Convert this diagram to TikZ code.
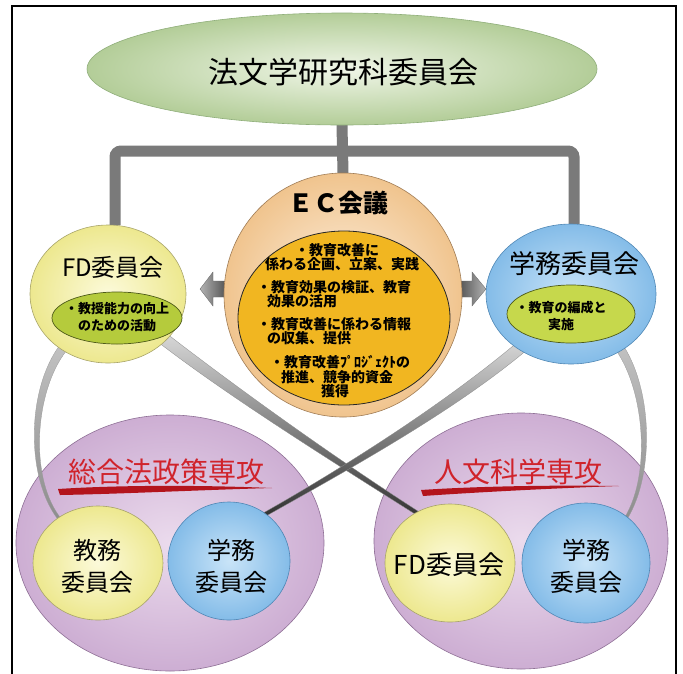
\documentclass[tikz,border=0pt]{standalone}
\usepackage{fontspec}
\setmainfont{Noto Sans CJK JP}
\usetikzlibrary{shapes.geometric,calc}
\pgfdeclarelayer{back}
\pgfdeclarelayer{purp}
\pgfdeclarelayer{band}
\pgfsetlayers{back,purp,band,main}

\definecolor{topIn}{HTML}{F0F6E8}
\definecolor{topOut}{HTML}{B3CD98}
\definecolor{topEdge}{HTML}{8FAE7A}
\definecolor{barGray}{HTML}{7A7A7A}
\definecolor{ecIn}{HTML}{FDF0E0}
\definecolor{ecOut}{HTML}{F0C48E}
\definecolor{ecEdge}{HTML}{A07C55}
\definecolor{ecYel}{HTML}{F1B621}
\definecolor{yIn}{HTML}{FCFADA}
\definecolor{yOut}{HTML}{EDE88F}
\definecolor{yEdge}{HTML}{A8A46A}
\definecolor{bIn}{HTML}{C9E4F8}
\definecolor{bOut}{HTML}{84BCE8}
\definecolor{bEdge}{HTML}{4F87B5}
\definecolor{gL}{HTML}{B5CB3C}
\definecolor{gR}{HTML}{C6D84C}
\definecolor{gEdge}{HTML}{4D5A18}
\definecolor{pIn}{HTML}{EBDBED}
\definecolor{pOut}{HTML}{CDAED3}
\definecolor{pEdge}{HTML}{8E6F95}
\definecolor{redT}{HTML}{D0232B}
\definecolor{brushR}{HTML}{B3141C}
\definecolor{bandTop}{HTML}{DADADA}
\definecolor{bandBot}{HTML}{303030}
\definecolor{sideTop}{HTML}{C4C4C4}
\definecolor{sideBot}{HTML}{8C8C8C}

% tapered band: #1 style, #2..#5 named points (start, c1, c2, end), #6 #7 half widths
\newcommand\taperband[7]{%
  \path[#1] ($(#2)!#6!90:(#3)$) .. controls ($(#3)!#6!90:(#4)$) and ($(#4)!#7!-90:(#3)$) .. ($(#5)!#7!-90:(#4)$)
  -- ($(#5)!#7!90:(#4)$) .. controls ($(#4)!#7!90:(#3)$) and ($(#3)!#6!-90:(#4)$) .. ($(#2)!#6!-90:(#3)$) -- cycle;}

\begin{document}
\begin{tikzpicture}[x=1pt,y=-1pt,
  blob/.style={ellipse, inner sep=0pt, outer sep=0pt, line width=0.6pt},
  yblob/.style={blob, draw=yEdge, inner color=yIn, outer color=yOut},
  bblob/.style={blob, draw=bEdge, inner color=bIn, outer color=bOut},
  pblob/.style={blob, draw=pEdge, inner color=pIn, outer color=pOut},
  bar/.style={line width=11pt, draw=barGray},
  bandS/.style={top color=bandTop, bottom color=bandBot, draw=black!45, line width=0.3pt},
  sideS/.style={top color=sideTop, bottom color=sideBot, draw=black!40, line width=0.3pt},
  lbl/.style={inner sep=0pt, text=black},
  small/.style={lbl, font=\fontsize{14}{14}\selectfont\bfseries},
  smaller/.style={lbl, font=\fontsize{13}{13}\selectfont\bfseries},
  redtitle/.style={lbl, text=redT, font=\fontsize{28}{28}\selectfont}]
\useasboundingbox (0,0) rectangle (683,673);

% frame
\draw[line width=1.6pt] (12,700) -- (12,6) -- (676,6) -- (676,700);

% ---------- top ellipse
\node[blob, minimum width=510pt, minimum height=112pt, draw=topEdge, inner color=topIn, outer color=topOut] (top) at (342,69) {};
\node[lbl, font=\fontsize{30}{30}\selectfont] (topT) at (343,72) {法文学研究科委員会};

% ---------- EC circle
\node[blob, minimum width=238pt, minimum height=244pt, draw=ecEdge, inner color=ecIn, outer color=ecOut] (ec) at (343,295) {};
\node[ellipse, minimum width=212pt, minimum height=174pt, fill=ecYel, draw=black!85, line width=0.8pt, inner sep=0pt] (ecin) at (344,318) {};
\node[lbl, font=\fontsize{25}{25}\selectfont\bfseries] (ecT) at (338,203) {ＥＣ会議};
\node[small] (t1) at (337,250) {・教育改善に};
\node[small] (t2) at (342,264) {係わる企画、立案、実践};
\node[small, anchor=west] (t3) at (257,287) {・教育効果の検証、教育};
\node[small, anchor=west] (t4) at (267,301) {効果の活用};
\node[small, anchor=west] (t5) at (257,324) {・教育改善に係わる情報};
\node[small, anchor=west] (t6) at (267,338) {の収集、提供};
\node[small, anchor=west] (t7) at (270,362) {・教育改善ﾌﾟﾛｼﾞｪｸﾄの};
\node[small] (t8) at (337,377) {推進、競争的資金};
\node[small] (t9) at (335,391) {獲得};

% ---------- FD committee (top left)
\node[yblob, minimum width=156pt, minimum height=138pt] (fdL) at (108,294) {};
\node[lbl, font=\fontsize{24}{24}\selectfont] (fdLT) at (113,267) {FD委員会};
\node[ellipse, minimum width=130pt, minimum height=52pt, fill=gL, draw=gEdge, line width=0.7pt, inner sep=0pt] (fdLin) at (117,318) {};
\node[smaller] (fdL1) at (117,309) {・教授能力の向上};
\node[smaller] (fdL2) at (117,326) {のための活動};

% ---------- Gakumu committee (top right)
\node[bblob, minimum width=170pt, minimum height=140pt] (gkT) at (571,294) {};
\node[lbl, font=\fontsize{26}{26}\selectfont] (gkTT) at (574,264) {学務委員会};
\node[ellipse, minimum width=128pt, minimum height=58pt, fill=gR, draw=gEdge, line width=0.7pt, inner sep=0pt] (gkTin) at (571,314) {};
\node[smaller] (gkT1) at (561,308) {・教育の編成と};
\node[smaller] (gkT2) at (561,325) {実施};

% ---------- big purple circles
\begin{pgfonlayer}{purp}
\node[pblob, minimum width=308pt, minimum height=256pt] (pL) at (170,543) {};
\node[pblob, minimum width=294pt, minimum height=256pt] (pR) at (521,541) {};
\end{pgfonlayer}

\node[redtitle] (pLT) at (166,472) {総合法政策専攻};
\node[redtitle] (pRT) at (518,472) {人文科学専攻};
\fill[brushR] (58,489) .. controls (120,485) and (200,485) .. (272,488) .. controls (200,490) and (120,494) .. (60,495) -- cycle;
\fill[brushR] (421,490) .. controls (480,486) and (560,485) .. (619,486) .. controls (560,488) and (480,492) .. (423,496) -- cycle;

% ---------- small circles
\node[yblob, minimum width=130pt, minimum height=114pt] (kyL) at (98,563) {};
\node[lbl, align=center, font=\fontsize{24}{32}\selectfont] (kyLT) at (97,566) {教務\\委員会};
\node[bblob, minimum width=122pt, minimum height=118pt] (gkL) at (229,561) {};
\node[lbl, align=center, font=\fontsize{24}{32}\selectfont] (gkLT) at (231,566) {学務\\委員会};
\node[yblob, minimum width=130pt, minimum height=118pt] (fdR) at (450,563) {};
\node[lbl, font=\fontsize{26}{26}\selectfont] (fdRT) at (449,565) {FD委員会};
\node[bblob, minimum width=128pt, minimum height=120pt] (gkR) at (586,563) {};
\node[lbl, align=center, font=\fontsize{24}{32}\selectfont] (gkRT) at (586,566) {学務\\委員会};

% ---------- grey bars
\coordinate (hbar) at (343,151);
\begin{pgfonlayer}{back}
\draw[bar] (top.south) -- (ec.north);
\draw[bar, rounded corners=6pt] ($(fdL.north)+(7,0)$) |- (hbar) -| ($(gkT.north)+(3,0)$);
\end{pgfonlayer}

% ---------- bands and arrows
\coordinate (a0) at (160,336); \coordinate (a1) at (235,394); \coordinate (a2) at (340,464); \coordinate (a3) at (425,518);
\coordinate (b0) at (527,342); \coordinate (b1) at (452,406); \coordinate (b2) at (347,468); \coordinate (b3) at (262,516);
\coordinate (c0) at (70,340);  \coordinate (c1) at (30,380);  \coordinate (c2) at (25,480);  \coordinate (c3) at (62,522);
\coordinate (d0) at (612,338); \coordinate (d1) at (650,380); \coordinate (d2) at (655,480); \coordinate (d3) at (622,524);
\coordinate (aLtip) at (200,289);
\coordinate (aRtip) at (486,289);
\begin{pgfonlayer}{band}
\taperband{sideS}{c0}{c1}{c2}{c3}{4.5pt}{1.5pt}
\taperband{sideS}{d0}{d1}{d2}{d3}{4.5pt}{1.5pt}
\taperband{bandS}{a0}{a1}{a2}{a3}{6pt}{2pt}
\taperband{bandS}{b0}{b1}{b2}{b3}{6pt}{2pt}
\path[left color=black!30, right color=black!80, draw=black!60, line width=0.3pt]
  (aLtip) -- ++(13,-17) -- ++(0,9) -- ++(22,0) -- ++(0,16) -- ++(-22,0) -- ++(0,9) -- cycle;
\path[left color=black!80, right color=black!30, draw=black!60, line width=0.3pt]
  (aRtip) -- ++(-14,-17) -- ++(0,9) -- ++(-22,0) -- ++(0,16) -- ++(22,0) -- ++(0,9) -- cycle;
\end{pgfonlayer}
\end{tikzpicture}
\end{document}
